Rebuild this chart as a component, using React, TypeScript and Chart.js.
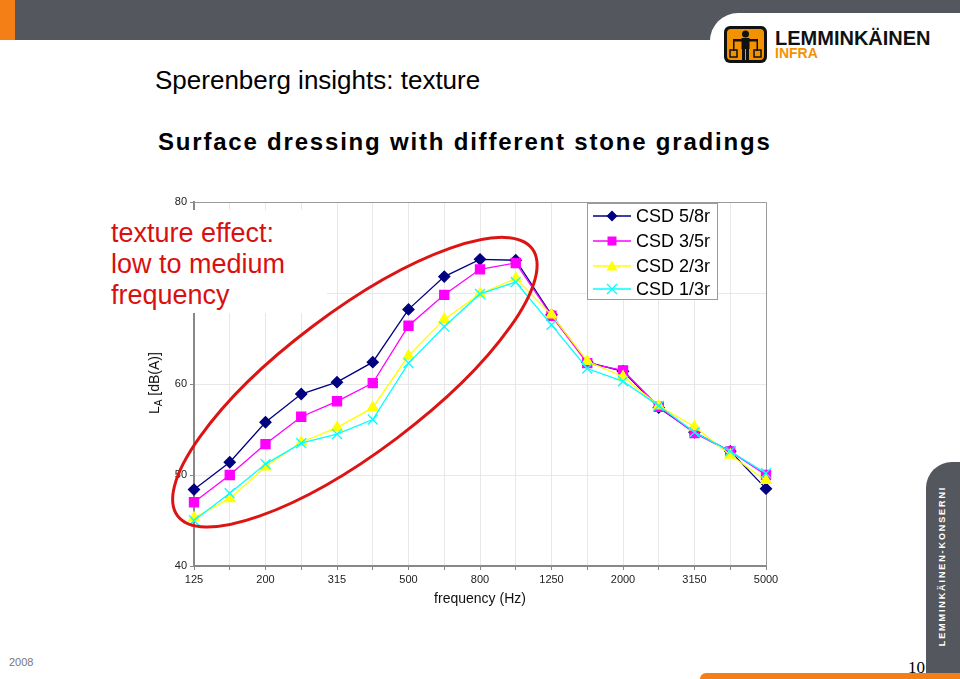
import React, { useEffect, useRef } from 'react';
import { Chart, registerables } from 'chart.js';

Chart.register(...registerables);

// ---- data ----
const frequencies = ['125', '160', '200', '250', '315', '400', '500', '630', '800', '1000', '1250', '1600', '2000', '2500', '3150', '4000', '5000'];
const shownTicks = ['125', '200', '315', '500', '800', '1250', '2000', '3150', '5000'];
const seriesNames = ['CSD 5/8r', 'CSD 3/5r', 'CSD 2/3r', 'CSD 1/3r'];
const csd58 = [48.4, 51.4, 55.8, 58.9, 60.2, 62.4, 68.2, 71.8, 73.7, 73.6, 67.6, 62.4, 61.4, 57.4, 54.7, 52.6, 48.5];
const csd35 = [47.0, 50.0, 53.4, 56.4, 58.1, 60.1, 66.4, 69.8, 72.6, 73.3, 67.5, 62.3, 61.5, 57.5, 54.6, 52.6, 50.0];
const csd23 = [45.3, 47.4, 50.9, 53.6, 55.2, 57.4, 63.1, 67.1, 69.9, 71.6, 67.6, 62.5, 60.8, 57.6, 55.3, 52.2, 49.4];
const csd13 = [45.0, 48.0, 51.2, 53.5, 54.5, 56.1, 62.3, 66.3, 69.9, 71.2, 66.5, 61.7, 60.3, 57.6, 54.7, 52.6, 50.2];
const yMin = 40;
const yMax = 80;
const yStep = 10;

const seriesValues = [csd58, csd35, csd23, csd13];
const seriesColors = ['#000080', '#ff00ff', '#ffff00', '#00ffff'];
const seriesMarkers = ['diamond', 'square', 'triangle', 'x'];

const FONT = "'Liberation Sans', Arial, sans-serif";

function drawMarker(ctx: CanvasRenderingContext2D, kind: string, x: number, y: number, color: string) {
  ctx.save();
  ctx.fillStyle = color;
  ctx.strokeStyle = color;
  ctx.lineWidth = 1.3;
  ctx.beginPath();
  if (kind === 'diamond') {
    ctx.moveTo(x, y - 5.5); ctx.lineTo(x + 5.5, y); ctx.lineTo(x, y + 5.5); ctx.lineTo(x - 5.5, y); ctx.closePath(); ctx.fill();
  } else if (kind === 'square') {
    ctx.rect(x - 4.5, y - 4.5, 9, 9); ctx.fill();
  } else if (kind === 'triangle') {
    ctx.moveTo(x, y - 5.5); ctx.lineTo(x + 5.5, y + 4.5); ctx.lineTo(x - 5.5, y + 4.5); ctx.closePath(); ctx.fill();
  } else {
    ctx.moveTo(x - 5, y - 5); ctx.lineTo(x + 5, y + 5); ctx.moveTo(x + 5, y - 5); ctx.lineTo(x - 5, y + 5); ctx.stroke();
  }
  ctx.restore();
}

const decorPlugin = {
  id: 'decor',
  beforeDatasetsDraw(chart: any) {
    const { ctx, chartArea: ca } = chart;
    ctx.save();
    ctx.strokeStyle = '#9a9a9a';
    ctx.lineWidth = 1;
    ctx.beginPath();
    ctx.moveTo(ca.left, Math.round(ca.top) + 0.5);
    ctx.lineTo(Math.round(ca.right) + 0.5, Math.round(ca.top) + 0.5);
    ctx.lineTo(Math.round(ca.right) + 0.5, ca.bottom);
    ctx.stroke();
    ctx.restore();
  },
  afterDatasetsDraw(chart: any) {
    const { ctx, scales } = chart;
    const cx = scales.x.getPixelForValue(4.5);
    const cy = scales.y.getPixelForValue(60.2);
    ctx.save();
    ctx.strokeStyle = '#dc1414';
    ctx.lineWidth = 3;
    ctx.beginPath();
    ctx.ellipse(cx, cy, 222, 70, (-37 * Math.PI) / 180, 0, 2 * Math.PI);
    ctx.stroke();
    ctx.restore();
  },
  afterDraw(chart: any) {
    const { ctx, chartArea: ca } = chart;
    const bx = ca.left + 393;
    const by = ca.top + 1;
    ctx.save();
    ctx.fillStyle = '#ffffff';
    ctx.fillRect(bx, by, 130, 96);
    ctx.strokeStyle = '#9a9a9a';
    ctx.lineWidth = 1;
    ctx.strokeRect(bx + 0.5, by + 0.5, 130, 96);
    const rows = [13, 38, 63, 86];
    chart.data.datasets.forEach((ds: any, i: number) => {
      const y = by + rows[i];
      ctx.strokeStyle = ds.borderColor;
      ctx.lineWidth = 1.3;
      ctx.beginPath();
      ctx.moveTo(bx + 6, y);
      ctx.lineTo(bx + 44, y);
      ctx.stroke();
      drawMarker(ctx, seriesMarkers[i], bx + 25, y, ds.borderColor);
      ctx.fillStyle = '#000';
      ctx.font = `18px ${FONT}`;
      ctx.textBaseline = 'middle';
      ctx.textAlign = 'left';
      ctx.fillText(ds.label, bx + 49, y + 1);
    });
    ctx.restore();
  },
};

const pointStyles: any = { diamond: 'rectRot', square: 'rect', triangle: 'triangle', x: 'crossRot' };
const pointRadii: any = { diamond: 5.5, square: 6.4, triangle: 6, x: 7 };

export default function App() {
  const canvasRef = useRef<HTMLCanvasElement | null>(null);

  useEffect(() => {
    const canvas = canvasRef.current;
    if (!canvas) return;
    const chart = new Chart(canvas, {
      type: 'line',
      data: {
        labels: frequencies,
        datasets: seriesValues.map((vals, i) => ({
          label: seriesNames[i],
          data: vals,
          borderColor: seriesColors[i],
          backgroundColor: seriesColors[i],
          pointBackgroundColor: seriesColors[i],
          pointBorderColor: seriesColors[i],
          borderWidth: 1.3,
          pointBorderWidth: 1.3,
          pointStyle: pointStyles[seriesMarkers[i]],
          pointRadius: pointRadii[seriesMarkers[i]],
          tension: 0,
          fill: false,
          clip: false,
          order: seriesValues.length - 1 - i,
        })),
      },
      options: {
        responsive: false,
        animation: false,
        events: [],
        layout: { padding: { left: 150, top: 202, right: 194, bottom: 83 } },
        plugins: { legend: { display: false }, tooltip: { enabled: false }, title: { display: false } },
        scales: {
          x: {
            type: 'category',
            offset: false,
            afterFit: (s: any) => { s.height = 30; },
            grid: {
              color: (c: any) => (c.index === 0 || c.index === frequencies.length - 1 ? 'rgba(0,0,0,0)' : '#e8e8e8'),
              tickColor: '#888',
              tickLength: 4,
              lineWidth: 1,
            },
            border: { display: true, color: '#888', width: 2 },
            ticks: {
              autoSkip: false,
              maxRotation: 0,
              minRotation: 0,
              padding: 3,
              color: '#222',
              font: { family: FONT, size: 11 },
              callback: (_v: any, idx: number) => (shownTicks.includes(frequencies[idx]) ? frequencies[idx] : ''),
            },
          },
          y: {
            min: yMin,
            max: yMax,
            afterFit: (s: any) => { s.width = 44; },
            grid: {
              color: (c: any) => (c.tick.value === yMin || c.tick.value === yMax ? 'rgba(0,0,0,0)' : '#e8e8e8'),
              tickColor: '#888',
              tickLength: 4,
            },
            border: { display: true, color: '#888', width: 2 },
            ticks: {
              stepSize: yStep,
              padding: 3,
              color: '#222',
              font: { family: FONT, size: 11 },
            },
          },
        },
      },
      plugins: [decorPlugin],
    } as any);
    return () => chart.destroy();
  }, []);

  const abs = (s: React.CSSProperties): React.CSSProperties => ({ position: 'absolute', ...s });

  return (
    <div style={{ position: 'absolute', left: 0, top: 0, width: 960, height: 679, background: '#fff', overflow: 'hidden', fontFamily: FONT }}>
      {/* slide decorations */}
      <div style={abs({ left: 0, top: 0, width: 960, height: 40, background: '#54575e' })} />
      <div style={abs({ left: 0, top: 0, width: 15, height: 40, background: '#f57f17' })} />
      <div style={abs({ left: 710, top: 13, width: 260, height: 40, background: '#fff', borderTopLeftRadius: 28 })} />
      <div style={abs({ left: 926, top: 462, width: 40, height: 211, background: '#54575e', borderTopLeftRadius: 26 })} />
      <div style={abs({ left: 700, top: 673, width: 270, height: 8, background: '#f57f17', borderTopLeftRadius: 6 })} />
      <svg style={abs({ left: 724, top: 26 })} width={43} height={37} viewBox="0 0 43 37">
        <rect x={0} y={0} width={43} height={37} rx={6} fill="#111" />
        <rect x={3} y={3} width={37} height={31} rx={4} fill="#f39200" />
        <circle cx={21.5} cy={8} r={3.5} fill="#111" />
        <rect x={17.5} y={12} width={8} height={11} fill="#111" />
        <rect x={9} y={13} width={25} height={2.5} fill="#111" />
        <rect x={18} y={23} width={3} height={11} fill="#111" />
        <rect x={22} y={23} width={3} height={11} fill="#111" />
        <rect x={9} y={15} width={1.5} height={10} fill="#111" />
        <rect x={32.5} y={15} width={1.5} height={10} fill="#111" />
        <rect x={6} y={24} width={7} height={7} fill="none" stroke="#111" strokeWidth={1.5} />
        <rect x={30} y={24} width={7} height={7} fill="none" stroke="#111" strokeWidth={1.5} />
      </svg>
      <div style={abs({ left: 775, top: 28, fontSize: 20, lineHeight: '20px', fontWeight: 'bold', color: '#111', whiteSpace: 'nowrap' })}>LEMMINKÄINEN</div>
      <div style={abs({ left: 775, top: 46, fontSize: 14, lineHeight: '14px', fontWeight: 'bold', color: '#f39200', whiteSpace: 'nowrap' })}>INFRA</div>
      <div style={abs({ left: 942, top: 566, transform: 'translate(-50%,-50%) rotate(-90deg)', fontSize: 9, fontWeight: 'bold', letterSpacing: 1.9, color: '#fff', whiteSpace: 'nowrap' })}>LEMMINKÄINEN-KONSERNI</div>
      <div style={abs({ left: 9, top: 657, fontSize: 11, lineHeight: '11px', color: '#777' })}>2008</div>
      <div style={abs({ left: 908, top: 659, fontSize: 17, lineHeight: '17px', color: '#000', fontFamily: "'Liberation Serif', serif" })}>10</div>

      {/* titles */}
      <div style={abs({ left: 155, top: 67, fontSize: 26, lineHeight: '26px', color: '#000', whiteSpace: 'nowrap' })}>Sperenberg insights: texture</div>
      <div style={abs({ left: 158, top: 130, fontSize: 24, lineHeight: '24px', fontWeight: 'bold', letterSpacing: 1.8, color: '#000', whiteSpace: 'nowrap' })}>Surface dressing with different stone gradings</div>

      <canvas ref={canvasRef} width={960} height={679} style={abs({ left: 0, top: 0, width: 960, height: 679 })} />

      {/* axis titles */}
      <div style={abs({ left: 155, top: 383, transform: 'translate(-50%,-50%) rotate(-90deg)', fontSize: 14, color: '#111', whiteSpace: 'nowrap' })}>
        L<sub style={{ fontSize: 10, verticalAlign: -3 }}>A</sub> [dB(A)]
      </div>
      <div style={abs({ left: 480, top: 598, transform: 'translate(-50%,-50%)', fontSize: 14, color: '#111', whiteSpace: 'nowrap' })}>frequency (Hz)</div>

      {/* annotation */}
      <div style={abs({ left: 105, top: 210, width: 222, height: 103, background: '#fff' })} />
      <div style={abs({ left: 111, top: 218, fontSize: 27, lineHeight: '31px', color: '#d81010', whiteSpace: 'nowrap' })}>
        texture effect:<br />low to medium<br />frequency
      </div>
    </div>
  );
}
